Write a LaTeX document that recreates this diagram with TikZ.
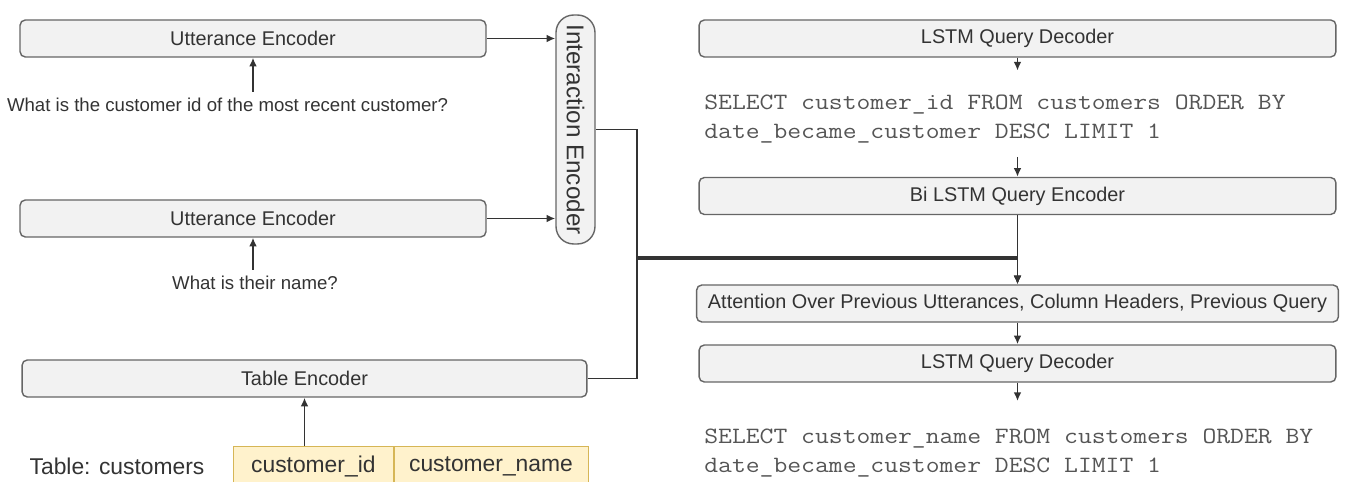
\documentclass[tikz,border=0pt]{standalone}
\usepackage{fontspec}
\usepackage{graphicx}
\usepackage{tikz}
\usetikzlibrary{arrows.meta,positioning}
\setmainfont{Liberation Sans}
\newfontfamily\sqlfont{Latin Modern Mono}[FakeStretch=1.15]
\definecolor{boxfill}{HTML}{F2F2F2}
\definecolor{boxline}{HTML}{666666}
\definecolor{ink}{HTML}{333333}
\definecolor{sqlink}{HTML}{555555}
\definecolor{cellfill}{HTML}{FFF2CC}
\definecolor{cellline}{HTML}{D6B656}

\begin{document}
\begin{tikzpicture}[x=0.02cm, y=-0.02cm,
    block/.style={draw=boxline, line width=0.8pt, rounded corners=3pt,
      fill=boxfill, text=ink, minimum height=0.74cm, inner sep=0pt,
      font=\fontsize{11.3}{13}\selectfont},
    question/.style={text=ink, font=\fontsize{10.6}{13}\selectfont},
    sql/.style={anchor=west, align=left, inner xsep=0pt, inner ysep=0.26cm,
      text=sqlink, font=\fontsize{13.3}{17}\sqlfont},
    cell/.style={draw=cellline, fill=cellfill, text=ink, minimum height=0.8cm,
      inner sep=0pt, font=\fontsize{13}{15}\selectfont},
    wire/.style={draw=ink, line width=1pt, -{Latex[length=5pt,width=4.5pt]}}]
    \useasboundingbox (0,0) rectangle (1346,482);

    % encoders on the left
    \node[block, minimum width=9.32cm] (utt1) at (253,38.5) {Utterance Encoder};
    \node[question] (q1) at (227.5,105) {What is the customer id of the most recent customer?};
    \node[block, minimum width=9.32cm] (utt2) at (253,218.5) {Utterance Encoder};
    \node[question] (q2) at (255,283) {What is their name?};
    \node[block, minimum width=11.3cm] (tabenc) at (304.5,378.5) {Table Encoder};
    \node[block, rounded corners=10pt, minimum width=0.78cm, minimum height=4.58cm,
          font=\fontsize{13.8}{15}\selectfont] (inter) at (575.5,129.5)
          {\rotatebox{-90}{Interaction Encoder}};

    % the table
    \node[text=ink, font=\fontsize{13}{15}\selectfont] (tabname) at (117,466) {Table: customers};
    \node[cell, minimum width=3.2cm, anchor=north west] (colid) at (233,446) {customer\_id};
    \node[cell, minimum width=3.88cm, right=0pt of colid] (colname) {customer\_name};

    % decoder side
    \node[block, minimum width=12.74cm] (dec1) at (1017.5,38.5) {LSTM Query Decoder};
    \node[sql] (sql1) at (704,119)
      {SELECT customer\_id FROM customers ORDER BY\\date\_became\_customer DESC LIMIT 1};
    \node[block, minimum width=12.74cm] (qenc) at (1017.5,196) {Bi LSTM Query Encoder};
    \node[block, minimum width=12.84cm] (attn) at (1017.5,303.5)
      {Attention Over Previous Utterances, Column Headers, Previous Query};
    \node[block, minimum width=12.74cm] (dec2) at (1017.5,363.5) {LSTM Query Decoder};
    \node[sql] (sql2) at (704,453)
      {SELECT customer\_name FROM customers ORDER BY\\date\_became\_customer DESC LIMIT 1};

    \coordinate (bus) at (637,257);
    \coordinate (bus2) at (637,259);

    \draw[wire] (q1.north -| utt1.south) -- (utt1.south);
    \draw[wire] (q2.north -| utt2.south) -- (utt2.south);
    \draw[wire] (colid.north -| tabenc.south) -- (tabenc.south);
    \draw[wire] (utt1.east) -- (utt1.east -| inter.west);
    \draw[wire] (utt2.east) -- (utt2.east -| inter.west);
    \draw[wire] (inter.east) -| (bus) -| (attn.north);
    \draw[wire] (tabenc.east) -| (bus2) -| (attn.north);

    \draw[wire, shorten >=6pt] (dec1.south) -- (dec1.south |- sql1.north);
    \draw[wire] (dec1.south |- sql1.south) -- (qenc.north);
    \draw[wire] (qenc) -- (attn);
    \draw[wire] (attn) -- (dec2);
    \draw[wire, shorten >=8pt] (dec2.south) -- (dec2.south |- sql2.north);
\end{tikzpicture}
\end{document}
